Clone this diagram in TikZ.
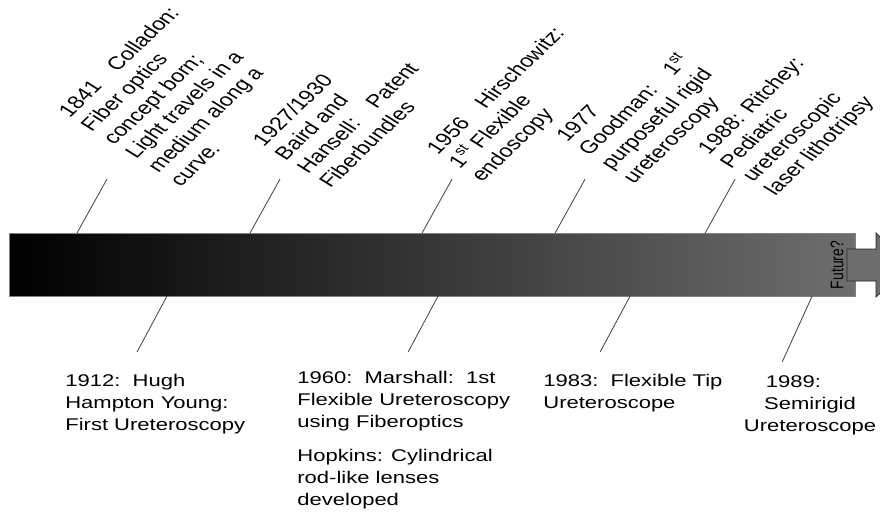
\documentclass[tikz,border=0pt]{standalone}
\usepackage{fontspec}
\setmainfont{Liberation Sans}
\usetikzlibrary{arrows.meta, calc, positioning}

\begin{document}
\begin{tikzpicture}[x=0.5769pt, y=-0.75pt, xscale=1.3, transform shape,
		event/.style={font=\fontsize{12.7}{16.5}\selectfont, align=left, inner sep=0pt},
		upevent/.style={event, font=\fontsize{13.6}{16.5}\selectfont, rotate=51, anchor=north west},
		downevent/.style={event, anchor=north west},
		tick/.style={black!75, line width=0.6pt}]
		
		\path[use as bounding box] (0,0) rectangle (880,513);
		\clip (0,0) rectangle (880,513);
		
		% --- 1. THE TIME BAR ---
		\shade[left color=black, right color=black!57, draw=gray] (9,233) rectangle (855,296);
		
		% Arrow to the future
		\draw[fill=black!57, draw=black!85, line width=0.6pt] (847,249) -- (876,249) -- (876,233)
		-- (910,265) -- (876,297) -- (876,281) -- (847,281) -- cycle;
		\node[rotate=90, inner sep=0pt, font=\fontsize{10.5}{12}\selectfont] (future) at (837,265) {Future?};
		
		% --- 2. EVENTS ABOVE THE BAR ---
		\node[upevent] (e1841) at (56,110) {1841\quad Colladon:\\ Fiber optics\\ concept born;\\ Light travels in a\\ medium along a\\ curve.};
		\node[upevent] (e1927) at (250,139) {1927/1930\\ Baird and\\ Hansell:\quad Patent\\ Fiberbundles};
		\node[upevent] (e1956) at (424,147) {1956\quad Hirschowitz:\\ 1\textsuperscript{st} Flexible\\ endoscopy};
		\node[upevent] (e1977) at (554,135) {1977\\ Goodman:\quad 1\textsuperscript{st}\\ purposeful rigid\\ ureteroscopy};
		\node[upevent] (e1988) at (695,147) {1988: Ritchey:\\ Pediatric\\ ureteroscopic\\ laser lithotripsy};
		
		% ticks from the bar up to the labels
		\foreach \x [count=\i] in {77,250,422,555,705} {
			\coordinate (up\i) at (\x,233);
			\coordinate (upend\i) at (\x+30,179);
			\draw[tick] (up\i) -- (upend\i);
		}
		
		% --- 3. EVENTS BELOW THE BAR ---
		\node[downevent] (e1912) at (65,374) {1912:\ \ Hugh\\ Hampton Young:\\ First Ureteroscopy};
		\node[downevent] (e1960) at (297,370.5) {1960:\ \ Marshall:\ \ 1st\\ Flexible Ureteroscopy\\ using Fiberoptics};
		\node[event, below=13.5pt of e1960.south west, anchor=north west] (hopkins) {Hopkins: Cylindrical\\ rod-like lenses\\ developed};
		\node[downevent] (e1983) at (543,373.5) {1983:\ \ Flexible Tip\\ Ureteroscope};
		\node[event, align=center, anchor=north] (e1989) at (810,375) {1989:\hspace*{1.5em}\\ Semirigid\\ Ureteroscope};
		
		% ticks from the bar down to the labels
		\foreach \x/\y [count=\i] in {167/352,438/352,630/352,812/362} {
			\coordinate (down\i) at (\x,296);
			\coordinate (downend\i) at (\x-30,\y);
			\draw[tick] (down\i) -- (downend\i);
		}
		
	\end{tikzpicture}
\end{document}
